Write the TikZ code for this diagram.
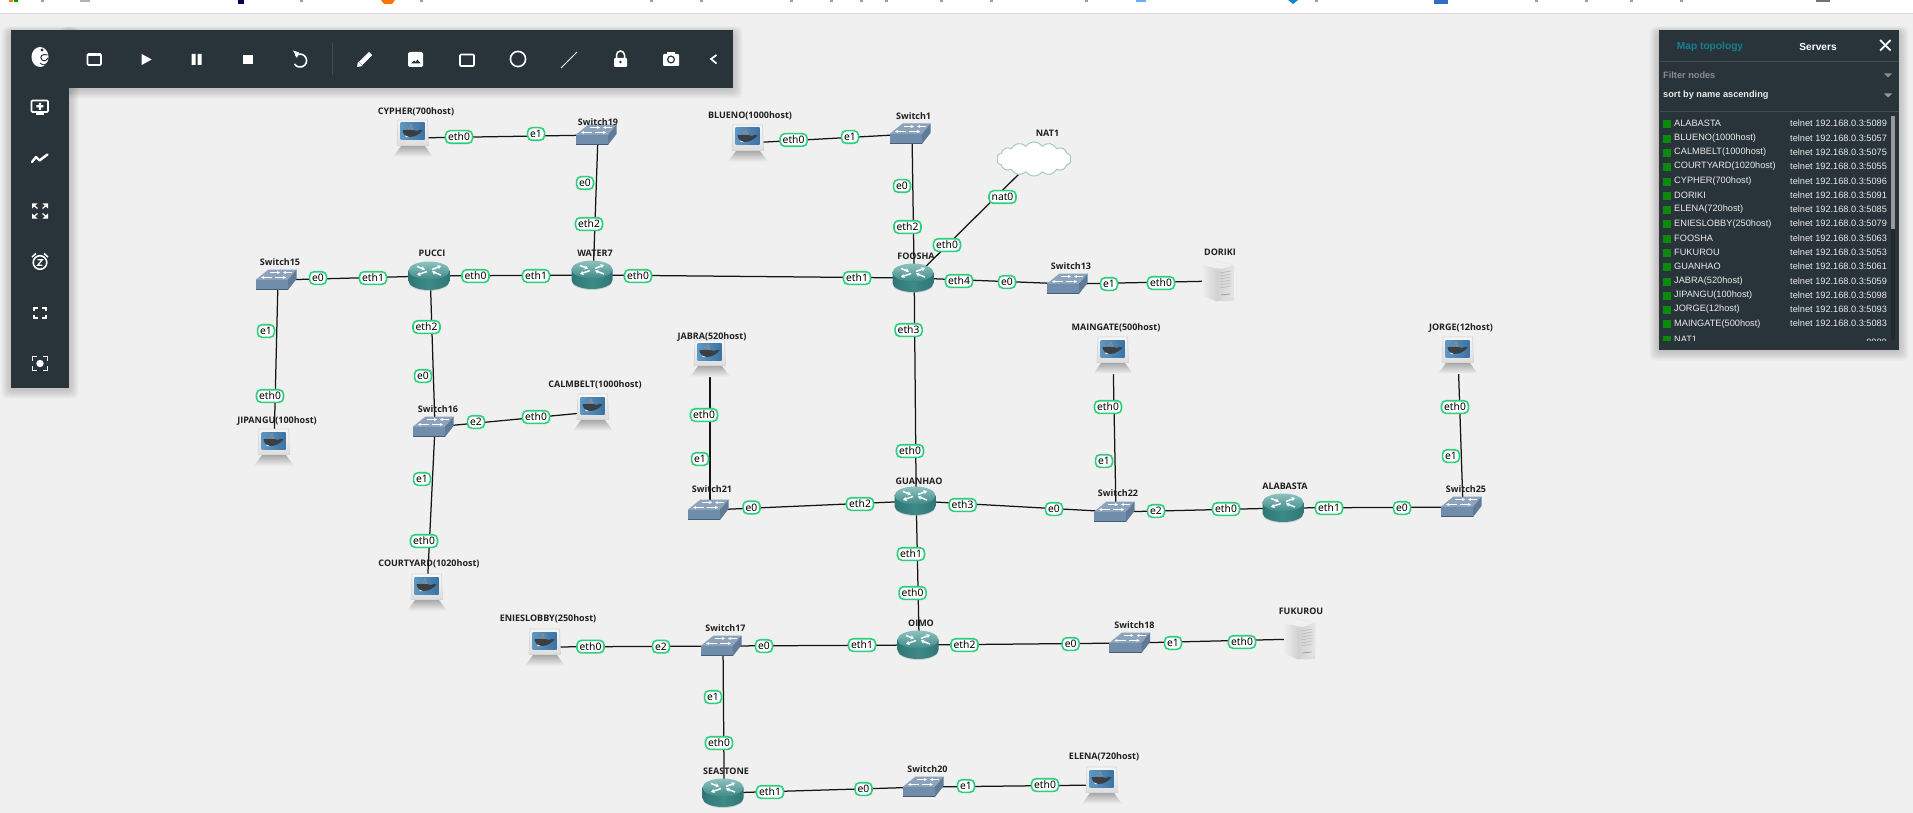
\documentclass[tikz,border=0pt]{standalone}
\usepackage{fontspec}
\setmainfont{Noto Sans}
\newfontfamily\devfont{Open Sans}
\newfontfamily\panelfont{Liberation Sans}
\usetikzlibrary{arrows.meta,shapes.symbols,shadings}
\pgfdeclarelayer{pagebg}
\pgfdeclarelayer{edges}
\pgfsetlayers{pagebg,edges,main}
\definecolor{canvasbg}{HTML}{F0F0F0}
\definecolor{uidark}{HTML}{29333A}
\definecolor{uiline}{HTML}{404B52}
\definecolor{ifgreen}{HTML}{2BCF7C}
\definecolor{linkcol}{HTML}{141414}
\definecolor{tealbody}{HTML}{3D8A89}
\definecolor{tealdark}{HTML}{2F7776}
\definecolor{tealtop}{HTML}{8EC2C0}
\definecolor{swtop}{HTML}{8CA3BB}
\definecolor{swfront}{HTML}{708DAB}
\definecolor{swside}{HTML}{5F7B98}
\definecolor{mapteal}{HTML}{14808F}
\definecolor{okgreen}{HTML}{0B8A0B}
\definecolor{scrA}{HTML}{5E97C4}
\definecolor{scrB}{HTML}{3B73A4}
\definecolor{whale}{HTML}{3A3F44}
\tikzset{
  linkline/.style={draw=linkcol,line width=1.25pt},
  devnode/.style={inner sep=0pt,minimum width=40pt,minimum height=28pt},
  devlabel/.style={inner sep=0pt,text=black!88,font=\devfont\fontsize{9}{11}\selectfont\bfseries},
  ifacebox/.style={draw=ifgreen,fill=white,line width=1.6pt,rounded corners=4.5pt,inner xsep=2.6pt,inner ysep=0pt,minimum height=12.6pt,text=black,font=\fontsize{10.3}{12}\selectfont},
  uiicon/.style={draw=white,line width=1.6pt},
  uifill/.style={fill=white,draw=none},
  rowname/.style={anchor=west,inner sep=0pt,text=white!92!black,font=\panelfont\fontsize{9.2}{11}\selectfont},
  rowtel/.style={anchor=west,inner sep=0pt,text=white!92!black,font=\panelfont\fontsize{9.2}{11}\selectfont},
  routericon/.pic={
    \fill[black!30,opacity=.5] (-20.5,6) arc[x radius=20.5pt,y radius=9pt,start angle=180,end angle=360] -- cycle;
    \shade[left color=tealdark,right color=tealdark,middle color=tealbody] (-20.5,-5.5) -- (-20.5,5) arc[x radius=20.5pt,y radius=9pt,start angle=180,end angle=360] -- (20.5,-5.5) -- cycle;
    \shade[top color=tealtop,bottom color=tealbody] (0,-5.5) ellipse[x radius=20.5pt,y radius=9pt];
    \draw[white,line width=1.5pt,-{Stealth[length=3.5pt,width=4.5pt]}] (-12,-9.5) -- (-4,-6.5);
    \draw[white,line width=1.5pt,-{Stealth[length=3.5pt,width=4.5pt]}] (-2,-4.5) -- (-12,-1);
    \draw[white,line width=1.5pt,-{Stealth[length=3.5pt,width=4.5pt]}] (3,-6.5) -- (12,-10);
    \draw[white,line width=1.5pt,-{Stealth[length=3.5pt,width=4.5pt]}] (12,-1) -- (3,-4.5);
  },
  switchicon/.pic={
    \fill[swtop] (-20.5,0) -- (-7.5,-10.5) -- (20.5,-10.5) -- (12,0) -- cycle;
    \fill[swfront] (-20.5,0) rectangle (12,10);
    \fill[black!35!swfront] (-20.5,8.8) rectangle (12,10);
    \fill[swside] (12,0) -- (20.5,-10.5) -- (20.5,-1) -- (12,10) -- cycle;
    \draw[white,line width=1.1pt,-{Stealth[length=3pt,width=3pt]}] (-6,-7.5) -- (4,-7.5);
    \draw[white,line width=1.1pt,-{Stealth[length=3pt,width=3pt]}] (16,-7.5) -- (7,-7.5);
    \draw[white,line width=1.1pt,-{Stealth[length=3pt,width=3pt]}] (-4,-2.5) -- (-15,-2.5);
    \draw[white,line width=1.1pt,-{Stealth[length=3pt,width=3pt]}] (-1,-2.5) -- (10,-2.5);
  },
  laptopicon/.pic={
    \shade[top color=black!34,bottom color=black!5] (-12,8) -- (12,8) -- (20,19) -- (-20,19) -- cycle;
    \shade[top color=black!3,bottom color=black!13] (-15,-18) -- (14.5,-18) -- (15.5,7.5) -- (-16,7.5) -- cycle;
    \draw[black!16,line width=.7pt] (-15,-18) -- (14.5,-18) -- (15.5,7.5) -- (-16,7.5) -- cycle;
    \shade[left color=scrA,right color=scrB] (-12.5,-15) rectangle (11.5,2);
    \fill[black!45] (-5,-10.5) rectangle (-2.6,-8.3) (-2,-10.5) rectangle (0.4,-8.3) (-3.5,-13.3) rectangle (-1,-11);
    \fill[whale] (-10.5,-7.8) .. controls (-5,-8.2) and (2,-8.2) .. (4,-7) .. controls (6,-8) and (8,-9) .. (9.5,-7.5) .. controls (7,-4.5) and (3,-1) .. (-3.5,-1) .. controls (-7.5,-1) and (-10,-4) .. (-10.5,-7.8) -- cycle;
    \fill[white] (-8,-2.5) -- (-4,-0.9) -- (-7,-0.9) -- cycle;
  },
  servericon/.pic={
    \fill[black!14] (-15.5,-15) -- (-3,-20.5) -- (15.5,-16) -- (15.5,19.5) -- (5,20.5) -- (-15.5,15) -- cycle;
    \fill[black!6] (-15.5,-15) -- (-5,-20.5) -- (15.5,-16) -- (5,-12) -- cycle;
    \shade[left color=black!7,right color=black!18] (-15.5,-15) -- (-1,-10.5) -- (-1,20.5) -- (-15.5,15) -- cycle;
    \shade[left color=black!18,right color=black!10] (-1,-10.5) -- (15.5,-16) -- (15.5,17) -- (-1,20.5) -- cycle;
    \foreach \yy in {-8,-5,-2,1,4,7}{\draw[black!30,line width=.5pt] (2,\yy) -- (13,\yy-2);}
    \draw[black!40,line width=.7pt] (3,14) -- (12,13);
  },
}
\newcommand{\routerat}[3]{\node[devnode] (#1) at (#2+1.2,#3) {};\pic at (#2,#3) {routericon};}
\newcommand{\switchat}[3]{\node[devnode,minimum height=22pt] (#1) at (#2+2,#3) {};\pic at (#2,#3) {switchicon};}
\newcommand{\laptopat}[3]{\node[devnode,minimum height=37pt] (#1) at (#2,#3) {};\pic at (#2,#3) {laptopicon};}
\newcommand{\serverat}[3]{\node[devnode,minimum width=31pt,minimum height=41pt] (#1) at (#2,#3) {};\pic at (#2,#3) {servericon};}
\newcommand{\softshadow}[4]{\foreach \ss in {1,...,8}{\fill[black,opacity=.022,rounded corners=5pt] (#1-\ss*1.2,#2-\ss*.7+2) rectangle (#3+\ss*1.2,#4+\ss*1.2+1);}}
\begin{document}
\begin{tikzpicture}[x=1pt,y=-1pt]
\useasboundingbox (0,0) rectangle (1913,813);
% page
\begin{pgfonlayer}{pagebg}
\fill[canvasbg] (0,0) rectangle (1913,813);
\fill[white] (0,0) rectangle (1913,13);
\fill[black!16] (0,13) rectangle (1913,14.2);
% browser tab fragments
\fill[orange!90!red] (381,0) -- (395,0) -- (392,4) -- (384,4) -- cycle;
\fill[blue!55!cyan!60] (1136,0) rectangle (1146,2.5);
\fill[cyan!70!blue] (1288,0) -- (1298,0) -- (1293,4) -- cycle;
\fill[blue!45!teal!80] (1434,0) rectangle (1448,4);
\fill[black!55] (1816,0) rectangle (1830,2.5);
\fill[black!30] (80,0) rectangle (90,2);
\fill[black!65!blue] (238,0) rectangle (244,4);
\fill[orange] (9,0) rectangle (13,2);\fill[green!60!black] (14,0) rectangle (18,2);
\foreach \tx in {41,300,420,650,700,790,830,860,885,940,990,1085,1315,1535,1585,1630,1680}{\fill[black!38] (\tx,0) rectangle (\tx+3,2);}
\end{pgfonlayer}
% devices
\routerat{PUCCI}{429}{276}
\routerat{WATER7}{592}{275}
\routerat{FOOSHA}{913}{278}
\routerat{GUANHAO}{915}{501}
\routerat{ALABASTA}{1283}{508}
\routerat{OIMO}{918}{645}
\routerat{SEASTONE}{723}{793}
\switchat{Switch19}{596}{135}
\switchat{Switch1}{910}{134}
\switchat{Switch15}{276}{280}
\switchat{Switch13}{1067}{284}
\switchat{Switch16}{433}{427}
\switchat{Switch21}{708}{510}
\switchat{Switch22}{1114}{512}
\switchat{Switch25}{1461}{507}
\switchat{Switch17}{721}{646}
\switchat{Switch18}{1129.5}{643}
\switchat{Switch20}{923}{787}
\laptopat{CYPHER}{413}{138}
\laptopat{BLUENO}{748}{143}
\laptopat{JABRA}{710}{358}
\laptopat{MAINGATE}{1113}{355}
\laptopat{JORGE}{1458}{355}
\laptopat{JIPANGU}{274}{447}
\laptopat{CALMBELT}{593}{412}
\laptopat{COURTYARD}{427}{592}
\laptopat{ENIESLOBBY}{545}{647}
\laptopat{ELENA}{1102}{785}
\serverat{DORIKI}{1218}{281}
\serverat{FUKUROU}{1299.5}{639}
\node[cloud,cloud puffs=14,cloud puff arc=110,aspect=2.2,draw=black!25!teal!35!white,fill=white,line width=1pt,minimum width=74pt,minimum height=34pt,inner sep=0pt] (NAT1) at (1034,159) {};
% links
\begin{pgfonlayer}{edges}
\foreach \a/\b in {CYPHER/Switch19,Switch19/WATER7,BLUENO/Switch1,Switch1/FOOSHA,FOOSHA/NAT1,PUCCI/Switch15,PUCCI/WATER7,WATER7/FOOSHA,FOOSHA/Switch13,Switch13/DORIKI,Switch15/JIPANGU,PUCCI/Switch16,Switch16/CALMBELT,Switch16/COURTYARD,FOOSHA/GUANHAO,GUANHAO/Switch21,Switch21/JABRA,GUANHAO/Switch22,Switch22/MAINGATE,Switch22/ALABASTA,ALABASTA/Switch25,Switch25/JORGE,GUANHAO/OIMO,OIMO/Switch17,OIMO/Switch18,Switch18/FUKUROU,Switch17/ENIESLOBBY,Switch17/SEASTONE,SEASTONE/Switch20,Switch20/ELENA}{\draw[linkline] (\a.center) -- (\b.center);}
\end{pgfonlayer}
% device labels
\foreach \x/\y/\t [count=\n] in {
416/112/CYPHER(700host),598/122/Switch19,750/116/BLUENO(1000host),913.6/116/Switch1,1047.5/133/NAT1,
280/262/Switch15,432/253/PUCCI,595/253/WATER7,916/256/FOOSHA,1071/266/Switch13,1220/252/DORIKI,
712/337/JABRA(520host),1116/328/MAINGATE(500host),1461/328/JORGE(12host),595/385/CALMBELT(1000host),
277/421/JIPANGU(100host),438/409/Switch16,712/489/Switch21,919/481/GUANHAO,1118/493/Switch22,1285/486/ALABASTA,1466/489/Switch25,
429/564/COURTYARD(1020host),548/618.5/ENIESLOBBY(250host),725.5/628/Switch17,921/623/OIMO,1134.5/625/Switch18,1301/611/FUKUROU,
726/771/SEASTONE,927.5/769/Switch20,1104/757/ELENA(720host)}
{\node[devlabel] (lab\n) at (\x,\y) {\t};}
% interface labels
\foreach \x/\y/\t [count=\n] in {
459/137/eth0,536/134/e1,585/183/e0,589/224/eth2,793.6/140/eth0,850/137/e1,902/186/e0,907.5/227/eth2,
1002.5/197/nat0,947/245/eth0,318/278/e0,373/278/eth1,475.5/276/eth0,536/276/eth1,638/276/eth0,857/278/eth1,959/281/eth4,1007/282/e0,1109/284/e1,1161/283/eth0,
266/331/e1,270/396/eth0,426.5/327/eth2,423/376/e0,476/422/e2,536/417/eth0,422/479/e1,424/541/eth0,
908.6/330/eth3,910/451/eth0,704/415/eth0,700/459/e1,751.5/507.5/e0,860/504/eth2,962.6/505/eth3,1054/509/e0,
1108/407/eth0,1104/461/e1,1156/511/e2,1226/509/eth0,1329/508/eth1,1402/508/e0,1451/456/e1,1455/407/eth0,
911/554/eth1,912.6/593/eth0,590.5/646.6/eth0,661/646.6/e2,764/646/e0,862/645/eth1,964.5/645/eth2,1070.6/644/e0,1173/643/e1,1242/642/eth0,
713/697/e1,719/743/eth0,770/792/eth1,863.5/789/e0,966/786/e1,1045/785/eth0}
{\node[ifacebox] (if\n) at (\x,\y) {\t};}
% left + top toolbars
\softshadow{11}{30}{69}{388}
\softshadow{69}{30}{733}{88}
\fill[uidark] (11,30) rectangle (69,388);
\fill[uidark] (69,30) rectangle (733,88);
% logo
\fill[white] (40,57) ellipse[x radius=8.5pt,y radius=10pt];
\fill[uidark] (42,50) circle[radius=1.6pt];
\draw[uidark,line width=1pt] (47.5,55) .. controls (42,53) and (39,57) .. (42,60) .. controls (45,62) and (47,60) .. (48,58);
\draw[uidark,line width=.8pt] (40,63) .. controls (43,66) and (46,65) .. (48,62);
% left icons
\draw[uiicon,rounded corners=1pt] (31.5,100.5) rectangle (48,112);
\fill[white] (36,113) rectangle (44,115);
\fill[white] (38.8,102.8) rectangle (41,109.8) (36.4,105.2) rectangle (43.4,107.4);
\draw[white,line width=2.4pt,line join=round,line cap=round] (32,162) -- (36,157) -- (39.5,160.5) -- (47.5,154.5);
\foreach \sx/\sy in {1/1,-1/1,1/-1,-1/-1}{
  \fill[white] (40+\sx*8,211+\sy*7.5) -- (40+\sx*2.5,211+\sy*7.5) -- (40+\sx*8,211+\sy*2.5) -- cycle;
  \draw[uiicon,line width=1.2pt] (40+\sx*5.5,211+\sy*5) -- (40+\sx*2.5,211+\sy*2.5);
  \draw[white,line width=1.7pt] (40+\sx*5.8,313+\sy*1.8) -- (40+\sx*5.8,313+\sy*5) -- (40+\sx*2,313+\sy*5);
  \draw[white,line width=1.7pt] (40+\sx*7.5,363.5+\sy*2.5) -- (40+\sx*7.5,363.5+\sy*7) -- (40+\sx*3,363.5+\sy*7);
}
\fill[white] (40,363.5) circle[radius=3.7pt];
\draw[uiicon] (40,262.5) circle[radius=6.8pt];
\draw[white,line width=1.2pt,line join=miter] (37.7,259.8) -- (42.3,259.8) -- (37.7,265.2) -- (42.3,265.2);
\draw[white,line width=1.5pt] (32,257) -- (36,253.5) (48,257) -- (44,253.5);
% top icons
\draw[uiicon,rounded corners=1pt] (87.5,54) rectangle (101,65);
\fill[white] (87.5,53.5) rectangle (101,56);
\fill[white] (141.7,54) -- (151.7,59.5) -- (141.7,65) -- cycle;
\fill[white] (191.7,54) rectangle (195.7,65) (197.7,54) rectangle (201.7,65);
\fill[white] (242.5,54.7) rectangle (252.7,64.3);
\draw[uiicon] (295.5,56) arc[radius=6.5pt,start angle=135,end angle=-150];
\fill[white] (293,50.5) -- (299,52.5) -- (297,58) -- cycle;
\draw[uiline,line width=.8pt] (332.5,43) -- (332.5,75);
\draw[white,line width=4.6pt] (360.5,63.5) -- (370.5,53.5);
\fill[white] (357,67) -- (358,61.5) -- (362.5,66) -- cycle;
\fill[white,rounded corners=1.5pt] (408,52) rectangle (423,67);
\fill[uidark] (411,63.5) -- (414,60.5) -- (415.5,62) -- (417.5,59.5) -- (420.5,63.5) -- cycle;
\draw[uiicon,rounded corners=1pt] (460,54.5) rectangle (474,66);
\draw[uiicon] (518,59) circle[radius=7.6pt];
\draw[white,line width=1pt] (561,68) -- (577,52);
\fill[white,rounded corners=1pt] (614,58) rectangle (627,67);
\draw[white,line width=1.5pt] (616.5,58.5) -- (616.5,55) arc[radius=4pt,start angle=180,end angle=0] -- (624.5,58.5);
\fill[uidark] (620.5,62) circle[radius=1.3pt];
\fill[white,rounded corners=1pt] (663,54) rectangle (679,66);
\fill[white] (667,52) rectangle (675,55);
\draw[uidark,line width=1.2pt] (671,59.5) circle[radius=3.4pt];
\draw[white,line width=1.7pt] (716.5,55) -- (711,59) -- (716.5,63.5);
% right panel
\softshadow{1659}{30}{1899}{350}
\fill[uidark] (1659,30) rectangle (1899,350);
\node[inner sep=0pt,text=mapteal,font=\panelfont\fontsize{10.2}{12}\selectfont\bfseries] (maptab) at (1710,47) {Map topology};
\node[inner sep=0pt,text=white,font=\panelfont\fontsize{10.2}{12}\selectfont\bfseries] (srvtab) at (1818,47) {Servers};
\draw[white,line width=1.8pt] (1880,40) -- (1890.5,50.5) (1890.5,40) -- (1880,50.5);
\draw[uiline,line width=1pt] (1660,61.5) -- (1899,61.5) (1660,111.5) -- (1899,111.5);
\node[rowname,text=black!45,font=\panelfont\fontsize{9.2}{11}\selectfont\bfseries] (filt) at (1663,75) {Filter nodes};
\node[rowname,font=\panelfont\fontsize{9.2}{11}\selectfont\bfseries] (sortby) at (1663,95) {sort by name ascending};
\fill[black!45] (1884,73.5) -- (1892,73.5) -- (1888,77.5) -- cycle;
\fill[black!40!white] (1884,93.5) -- (1892,93.5) -- (1888,97.5) -- cycle;
\fill[black!20!uidark] (1891,116) rectangle (1895,340);
\fill[black!40] (1891,116) rectangle (1895,229);
\begin{scope}
\clip (1660,112) rectangle (1890,340.5);
\foreach \nm/\tel [count=\n from 0] in {
ALABASTA/telnet 192.168.0.3:5089,BLUENO(1000host)/telnet 192.168.0.3:5057,CALMBELT(1000host)/telnet 192.168.0.3:5075,COURTYARD(1020host)/telnet 192.168.0.3:5055,CYPHER(700host)/telnet 192.168.0.3:5096,DORIKI/telnet 192.168.0.3:5091,ELENA(720host)/telnet 192.168.0.3:5085,ENIESLOBBY(250host)/telnet 192.168.0.3:5079,FOOSHA/telnet 192.168.0.3:5063,FUKUROU/telnet 192.168.0.3:5053,GUANHAO/telnet 192.168.0.3:5061,JABRA(520host)/telnet 192.168.0.3:5059,JIPANGU(100host)/telnet 192.168.0.3:5098,JORGE(12host)/telnet 192.168.0.3:5093,MAINGATE(500host)/telnet 192.168.0.3:5083}
{
  \fill[okgreen] (1663,{120.5+14.28*\n}) rectangle (1671,{128.5+14.28*\n});
  \node[rowname] (rn\n) at (1674,{123.7+14.28*\n}) {\nm};
  \node[rowtel] (rt\n) at (1790,{123.7+14.28*\n}) {\tel};
}
\fill[okgreen] (1663,335.5) rectangle (1671,343);
\node[rowname] (rnat) at (1674,339) {NAT1};
\node[rowname,anchor=east] (rnatp) at (1887,342.5) {8080};
\end{scope}
\end{tikzpicture}
\end{document}
